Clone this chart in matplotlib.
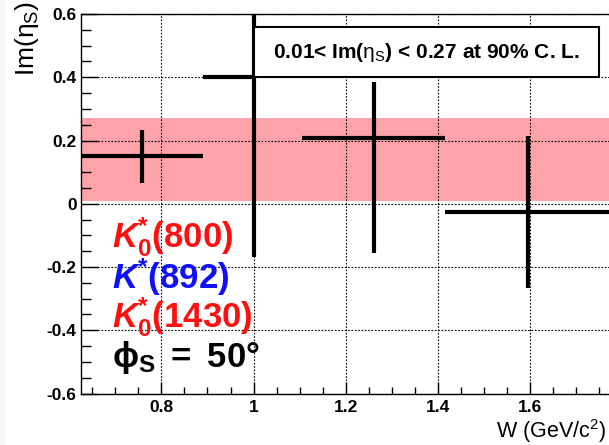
import matplotlib
matplotlib.use('Agg')
import matplotlib.pyplot as plt
from matplotlib.patches import Rectangle
from matplotlib.ticker import MultipleLocator

# data
w_center = [0.757, 1.0, 1.261, 1.595]
w_err_lo = [0.133, 0.11, 0.155, 0.18]
w_err_hi = [0.133, 0.0, 0.155, 0.18]
im_eta = [0.152, 0.40, 0.207, -0.025]
im_err_lo = [0.085, 0.568, 0.364, 0.242]
im_err_hi = [0.082, 0.568, 0.177, 0.24]
band_lo, band_hi = 0.01, 0.27

legend_lines = [r'$\mathbfit{K}^{\mathbf{*}}_{\mathbf{0}}\mathbf{(800)}$',
                r'$\mathbfit{K}^{\mathbf{*}}\mathbf{(892)}$',
                r'$\mathbfit{K}^{\mathbf{*}}_{\mathbf{0}}\mathbf{(1430)}$',
                r'$\mathbf{\phi}_{\mathbf{S}}\mathbf{\ =\ 50°}$']
legend_colors = ['#ff1010', '#1010ff', '#ff1010', 'black']

plt.rcParams['mathtext.fontset'] = 'custom'
plt.rcParams['mathtext.rm'] = 'Liberation Sans'
plt.rcParams['mathtext.it'] = 'Liberation Sans'
plt.rcParams['mathtext.bf'] = 'Liberation Sans:bold'
plt.rcParams['mathtext.bfit'] = 'Liberation Sans:bold:italic'
plt.rcParams['font.family'] = ['Liberation Sans', 'DejaVu Sans']

fig = plt.figure(figsize=(6.09, 4.45), dpi=100, facecolor='white')
fig.patches.append(Rectangle((0, 0), 5 / 609, 1, transform=fig.transFigure,
                             fc='#f4f8fb', ec='none', zorder=-1))
ax = fig.add_axes([0.1325, 0.1157, 0.8895, 0.8528])

ax.set_xlim(0.625, 1.8)
ax.set_ylim(-0.6, 0.6)

# 90% C.L. band
ax.axhspan(band_lo, band_hi, color='#ffa3aa', lw=0, zorder=1)

# grid
ax.grid(True, which='major', color='black', linestyle=(0, (1.5, 1.5)), linewidth=0.8, zorder=2)

eb = ax.errorbar(w_center, im_eta, xerr=[w_err_lo, w_err_hi], yerr=[im_err_lo, im_err_hi],
                 fmt='none', ecolor='black', elinewidth=3, capsize=0, zorder=3)
for c in eb[2]:
    c.set_capstyle('butt')

# axes style (ROOT like)
ax.xaxis.set_major_locator(MultipleLocator(0.2))
ax.xaxis.set_minor_locator(MultipleLocator(0.05))
ax.yaxis.set_major_locator(MultipleLocator(0.2))
ax.yaxis.set_minor_locator(MultipleLocator(0.05))
ax.tick_params(axis='x', which='major', direction='in', length=9, width=1, pad=5,
               labelsize=12.5)
ax.tick_params(axis='x', which='minor', direction='in', length=5, width=1)
ax.tick_params(axis='y', which='major', direction='in', length=12, width=1, pad=3,
               labelsize=12.5)
ax.tick_params(axis='y', which='minor', direction='in', length=7, width=1)
ax.xaxis.set_major_formatter(plt.FuncFormatter(lambda v, p: f'{v:g}' if v < 1.7 else ''))
ax.yaxis.set_major_formatter(plt.FuncFormatter(lambda v, p: f'{v:g}'))
for lab in ax.get_xticklabels() + ax.get_yticklabels():
    lab.set_fontweight('bold')
for s in ax.spines.values():
    s.set_linewidth(1)
ax.spines['right'].set_visible(False)

# labels
fig.text(606 / 609, 1 - 431 / 445, r'W (GeV/c$^{2}$)', ha='right', va='center', fontsize=15.5)
fig.text(27 / 609, 1 - 1 / 445, r'Im($\eta_{S}$)', ha='center', va='top',
         rotation=90, fontsize=19)

# result box
ax.add_patch(Rectangle((1.0, 0.4), 0.749, 0.158, fc='white', ec='black', lw=1.5, zorder=5))
ax.text(1.375, 0.479, r'0.01< Im($\eta_{S}$) < 0.27 at 90% C. L.', ha='center', va='center',
        fontsize=15, fontweight='bold', zorder=6)

# model text
for i, (txt, col) in enumerate(zip(legend_lines, legend_colors)):
    ax.text(0.692, -0.106 - 0.1265 * i, txt, color=col, ha='left', va='center',
            fontsize=25, zorder=6)

fig.savefig('out.png', dpi=100)
